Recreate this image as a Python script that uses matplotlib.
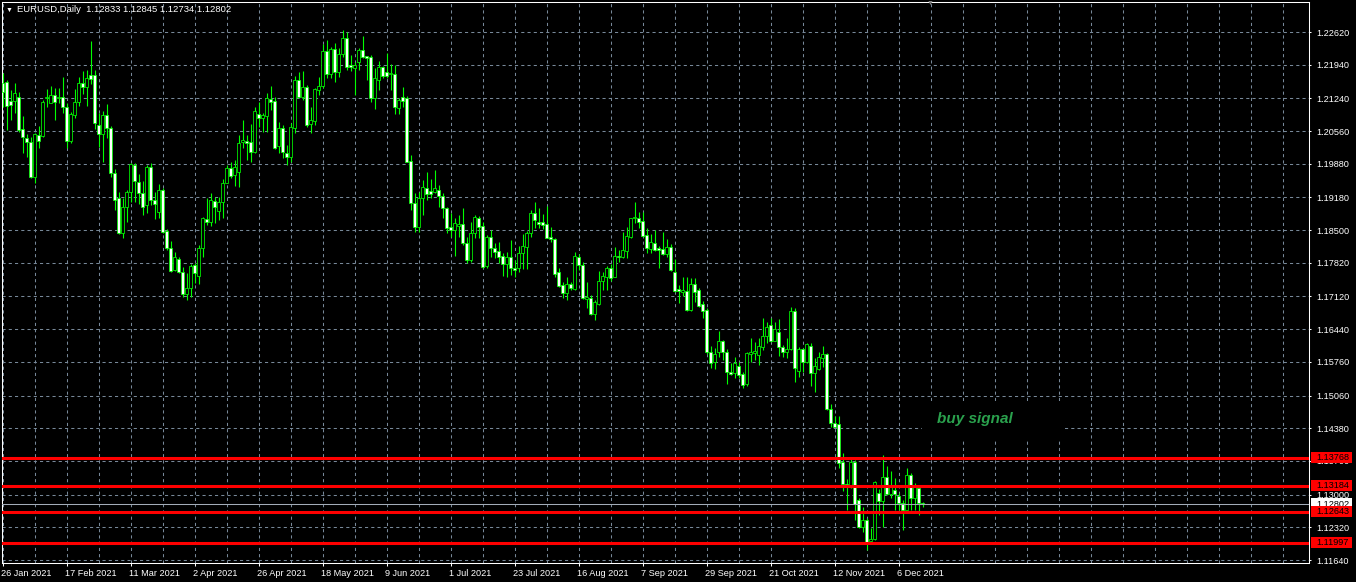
import matplotlib
matplotlib.use('Agg')
import matplotlib.pyplot as plt
import matplotlib.transforms as mtransforms
from matplotlib.patches import Rectangle

plt.rcParams['font.family'] = ['Liberation Sans', 'DejaVu Sans']

# EURUSD daily candles (open, high, low, close)
opens = [1.21567, 1.21588, 1.21193, 1.21193, 1.21276, 1.20596, 1.20409, 1.20340, 1.19612, 1.20478,
         1.20464, 1.21241, 1.21151, 1.21304, 1.21255, 1.21262, 1.21061, 1.20354, 1.20895, 1.21172,
         1.21553, 1.21484, 1.21719, 1.21719, 1.20687, 1.20492, 1.20895, 1.20617, 1.19681, 1.19175,
         1.18447, 1.18988, 1.19286, 1.19855, 1.19494, 1.19266, 1.19023, 1.19806, 1.19127, 1.18870,
         1.19335, 1.18489, 1.18122, 1.17671, 1.17893, 1.17636, 1.17165, 1.17290, 1.17775, 1.17539,
         1.18122, 1.18732, 1.18662, 1.19113, 1.18905, 1.19092, 1.19474, 1.19785, 1.19647, 1.19700,
         1.20326, 1.20353, 1.20340, 1.20132, 1.20908, 1.20825, 1.20881, 1.21227, 1.21185, 1.20257,
         1.20617, 1.20097, 1.20028, 1.20631, 1.21622, 1.21275, 1.21469, 1.20700, 1.20776, 1.21414,
         1.21504, 1.22225, 1.21740, 1.22267, 1.21795, 1.22156, 1.22488, 1.21934, 1.21878, 1.21989,
         1.22246, 1.22121, 1.22093, 1.21255, 1.21622, 1.21885, 1.21781, 1.21740, 1.21740, 1.21033,
         1.21275, 1.21255, 1.19938, 1.19057, 1.18558, 1.19161, 1.19369, 1.19314, 1.19300, 1.19327,
         1.19217, 1.18953, 1.18572, 1.18503, 1.18593, 1.18621, 1.18225, 1.17879, 1.18433, 1.18745,
         1.18593, 1.17754, 1.18350, 1.18122, 1.18066, 1.17962, 1.17789, 1.17934, 1.17720, 1.17706,
         1.18017, 1.18156, 1.18433, 1.18863, 1.18676, 1.18676, 1.18621, 1.18364, 1.18309, 1.17622,
         1.17359, 1.17186, 1.17380, 1.17276, 1.17934, 1.17775, 1.17068, 1.17082, 1.16749, 1.16957,
         1.17442, 1.17532, 1.17706, 1.17532, 1.17969, 1.17948, 1.18073, 1.18364, 1.18745, 1.18759,
         1.18690, 1.18399, 1.18108, 1.18225, 1.18122, 1.18108, 1.18004, 1.18156, 1.17622, 1.17269,
         1.17220, 1.17234, 1.16839, 1.17373, 1.17255, 1.16957, 1.16839, 1.15959, 1.15751, 1.15959,
         1.16195, 1.15959, 1.15557, 1.15522, 1.15675, 1.15501, 1.15293, 1.15917, 1.15938, 1.15903,
         1.16077, 1.16305, 1.16527, 1.16201, 1.16375, 1.16077, 1.15959, 1.16028, 1.16818, 1.15571,
         1.16028, 1.15765, 1.16097, 1.15522, 1.15612, 1.15848, 1.15917, 1.14774, 1.14496, 1.14468,
         1.13685, 1.13221, 1.13200, 1.13685, 1.12888, 1.12333, 1.12472, 1.12042, 1.12070, 1.13041,
         1.12874, 1.13359, 1.13013, 1.13096, 1.12971, 1.12819, 1.12680, 1.13408, 1.12923, 1.13131,
         1.12833]
highs = [1.21761, 1.21622, 1.21414, 1.21553, 1.21366, 1.20874, 1.20499, 1.20444, 1.20513, 1.20666,
         1.21207, 1.21435, 1.21497, 1.21449, 1.21463, 1.21678, 1.21137, 1.20950, 1.21435, 1.21678,
         1.21809, 1.21830, 1.22433, 1.21830, 1.20929, 1.20978, 1.21117, 1.20673, 1.19771, 1.19300,
         1.19161, 1.19335, 1.19889, 1.19889, 1.19661, 1.19522, 1.19855, 1.19889, 1.19300, 1.19453,
         1.19370, 1.18524, 1.18274, 1.18038, 1.17948, 1.17727, 1.17602, 1.17789, 1.17810, 1.18191,
         1.18780, 1.19161, 1.19266, 1.19196, 1.19182, 1.19557, 1.19855, 1.19924, 1.19959, 1.20478,
         1.20790, 1.20478, 1.20707, 1.21067, 1.21158, 1.20929, 1.21345, 1.21497, 1.21275, 1.20756,
         1.20686, 1.20270, 1.20721, 1.21712, 1.21795, 1.21809, 1.21518, 1.21067, 1.21463, 1.21691,
         1.22371, 1.22454, 1.22301, 1.22385, 1.22294, 1.22662, 1.22613, 1.22142, 1.22003, 1.22294,
         1.22537, 1.22128, 1.22142, 1.21865, 1.22017, 1.21920, 1.22190, 1.21948, 1.21934, 1.21241,
         1.21483, 1.21296, 1.20062, 1.19265, 1.19300, 1.19542, 1.19716, 1.19563, 1.19750, 1.19438,
         1.19265, 1.18988, 1.18849, 1.18745, 1.18815, 1.18953, 1.18364, 1.18676, 1.18815, 1.18794,
         1.18676, 1.18399, 1.18503, 1.18225, 1.18260, 1.18017, 1.18038, 1.18295, 1.17879, 1.18177,
         1.18413, 1.18482, 1.18919, 1.19078, 1.18967, 1.18829, 1.19002, 1.18572, 1.18329, 1.17706,
         1.17428, 1.17532, 1.17428, 1.18038, 1.17997, 1.17830, 1.17428, 1.17151, 1.17047, 1.17650,
         1.17636, 1.17761, 1.17789, 1.18156, 1.18087, 1.18468, 1.18572, 1.18759, 1.19078, 1.18870,
         1.18884, 1.18537, 1.18413, 1.18503, 1.18177, 1.18468, 1.18316, 1.18205, 1.17900, 1.17359,
         1.17532, 1.17532, 1.17498, 1.17512, 1.17290, 1.17026, 1.16874, 1.16097, 1.16042, 1.16402,
         1.16215, 1.16028, 1.15730, 1.15869, 1.15765, 1.15557, 1.15959, 1.16250, 1.16181, 1.16250,
         1.16680, 1.16583, 1.16666, 1.16583, 1.16652, 1.16111, 1.16250, 1.16909, 1.16888, 1.16077,
         1.16042, 1.16146, 1.16146, 1.15834, 1.15959, 1.16097, 1.15938, 1.14884, 1.14635, 1.14635,
         1.13858, 1.13325, 1.13734, 1.13720, 1.12923, 1.12749, 1.12507, 1.12299, 1.13290, 1.13110,
         1.13824, 1.13595, 1.13491, 1.13339, 1.13027, 1.12888, 1.13547, 1.13443, 1.13235, 1.13152,
         1.12845]
lows = [1.21068, 1.20583, 1.20791, 1.20929, 1.20548, 1.20097, 1.20028, 1.19578, 1.19474, 1.20201,
        1.20444, 1.21068, 1.21137, 1.20791, 1.21137, 1.20943, 1.20201, 1.20305, 1.20825, 1.21082,
        1.21324, 1.21089, 1.21539, 1.20603, 1.20236, 1.19910, 1.20409, 1.19612, 1.18919, 1.18413,
        1.18343, 1.18676, 1.19092, 1.19092, 1.19037, 1.18815, 1.18849, 1.19023, 1.18732, 1.18759,
        1.18434, 1.18087, 1.17623, 1.17650, 1.17602, 1.17117, 1.17047, 1.17117, 1.17394, 1.17373,
        1.17948, 1.18607, 1.18586, 1.18641, 1.18711, 1.18746, 1.19474, 1.19578, 1.19418, 1.19400,
        1.20215, 1.19958, 1.19924, 1.20097, 1.20652, 1.20548, 1.20548, 1.21006, 1.20187, 1.20111,
        1.19993, 1.19854, 1.19924, 1.20513, 1.21241, 1.21206, 1.20652, 1.20513, 1.20686, 1.21310,
        1.21449, 1.21657, 1.21671, 1.21587, 1.21691, 1.22107, 1.21830, 1.21809, 1.21310, 1.21830,
        1.22086, 1.21622, 1.21171, 1.21019, 1.21414, 1.21657, 1.21657, 1.21414, 1.20915, 1.20915,
        1.21067, 1.19910, 1.18919, 1.18468, 1.18468, 1.18815, 1.19127, 1.19161, 1.19265, 1.18988,
        1.18759, 1.18433, 1.18364, 1.17952, 1.18364, 1.18191, 1.17810, 1.17830, 1.18329, 1.18343,
        1.17706, 1.17720, 1.17948, 1.17914, 1.17810, 1.17553, 1.17532, 1.17567, 1.17532, 1.17622,
        1.17692, 1.17692, 1.18364, 1.18537, 1.18537, 1.18524, 1.18329, 1.18260, 1.17532, 1.17324,
        1.17082, 1.17047, 1.17255, 1.17255, 1.17671, 1.17068, 1.16874, 1.16735, 1.16631, 1.16943,
        1.17255, 1.17255, 1.17442, 1.17532, 1.17830, 1.17914, 1.17928, 1.18329, 1.18641, 1.18537,
        1.18364, 1.18017, 1.18017, 1.18066, 1.17706, 1.17983, 1.17948, 1.17650, 1.17220, 1.16978,
        1.17137, 1.16818, 1.16818, 1.17013, 1.16908, 1.16680, 1.15917, 1.15626, 1.15612, 1.15869,
        1.15799, 1.15293, 1.15488, 1.15418, 1.15418, 1.15224, 1.15266, 1.15765, 1.15799, 1.15695,
        1.16007, 1.16146, 1.16181, 1.16194, 1.15890, 1.15869, 1.15834, 1.16007, 1.15349, 1.15453,
        1.15557, 1.15730, 1.15266, 1.15127, 1.15591, 1.15661, 1.14760, 1.14413, 1.14399, 1.13547,
        1.13082, 1.12680, 1.13131, 1.12472, 1.12299, 1.12230, 1.11848, 1.12022, 1.12056, 1.12576,
        1.12334, 1.12992, 1.12923, 1.12680, 1.12680, 1.12264, 1.12680, 1.12680, 1.12680, 1.12576,
        1.12734]
closes = [1.21366, 1.21089, 1.21096, 1.21345, 1.20583, 1.20430, 1.20340, 1.19612, 1.20492, 1.20360,
          1.21158, 1.21262, 1.21304, 1.21172, 1.21269, 1.21054, 1.20360, 1.20915, 1.21158, 1.21553,
          1.21484, 1.21657, 1.21650, 1.20721, 1.20492, 1.20895, 1.20617, 1.19681, 1.19127, 1.18447,
          1.18988, 1.19286, 1.19868, 1.19522, 1.19266, 1.18988, 1.19806, 1.19127, 1.19037, 1.19335,
          1.18468, 1.18122, 1.17657, 1.17934, 1.17636, 1.17165, 1.17290, 1.17754, 1.17609, 1.18122,
          1.18746, 1.18662, 1.19120, 1.18988, 1.19092, 1.19474, 1.19785, 1.19633, 1.19806, 1.20320,
          1.20374, 1.20319, 1.20132, 1.20977, 1.20839, 1.20895, 1.21241, 1.21171, 1.20201, 1.20617,
          1.20118, 1.20028, 1.20652, 1.21622, 1.21275, 1.21469, 1.20686, 1.20790, 1.21428, 1.21497,
          1.22225, 1.21740, 1.22267, 1.21795, 1.22156, 1.22488, 1.21899, 1.21899, 1.21934, 1.22246,
          1.22107, 1.22086, 1.21255, 1.21657, 1.21885, 1.21712, 1.21712, 1.21761, 1.21054, 1.21206,
          1.21185, 1.19924, 1.19057, 1.18572, 1.19161, 1.19404, 1.19251, 1.19251, 1.19369, 1.19217,
          1.18953, 1.18551, 1.18503, 1.18641, 1.18620, 1.18225, 1.17879, 1.18433, 1.18766, 1.18572,
          1.17740, 1.18364, 1.18122, 1.18038, 1.17948, 1.17789, 1.17934, 1.17706, 1.17671, 1.18017,
          1.18170, 1.18433, 1.18863, 1.18711, 1.18628, 1.18607, 1.18343, 1.18309, 1.17588, 1.17345,
          1.17200, 1.17380, 1.17290, 1.17962, 1.17775, 1.17082, 1.17116, 1.16749, 1.17013, 1.17442,
          1.17546, 1.17720, 1.17512, 1.17969, 1.17934, 1.18087, 1.18378, 1.18745, 1.18773, 1.18676,
          1.18385, 1.18135, 1.18260, 1.18087, 1.18094, 1.18004, 1.18156, 1.17671, 1.17241, 1.17234,
          1.17255, 1.16839, 1.17373, 1.17206, 1.16929, 1.16825, 1.15959, 1.15744, 1.15917, 1.16195,
          1.15959, 1.15543, 1.15515, 1.15730, 1.15488, 1.15280, 1.15938, 1.15973, 1.15987, 1.16090,
          1.16305, 1.16493, 1.16201, 1.16444, 1.16077, 1.15959, 1.16028, 1.16818, 1.15626, 1.16028,
          1.15765, 1.16125, 1.15522, 1.15675, 1.15855, 1.15917, 1.14773, 1.14496, 1.14413, 1.13664,
          1.13221, 1.13200, 1.13685, 1.12805, 1.12333, 1.12472, 1.12022, 1.12070, 1.13269, 1.12874,
          1.13359, 1.13013, 1.13165, 1.13013, 1.12833, 1.12680, 1.13408, 1.12923, 1.13152, 1.12819,
          1.12802]

date_labels = ['26 Jan 2021', '17 Feb 2021', '11 Mar 2021', '2 Apr 2021', '26 Apr 2021',
               '18 May 2021', '9 Jun 2021', '1 Jul 2021', '23 Jul 2021', '16 Aug 2021',
               '7 Sep 2021', '29 Sep 2021', '21 Oct 2021', '12 Nov 2021', '6 Dec 2021']
price_ticks = [1.22620, 1.21940, 1.21240, 1.20560, 1.19880, 1.19180, 1.18500, 1.17820, 1.17120,
               1.16440, 1.15760, 1.15060, 1.14380, 1.13700, 1.13000, 1.12320, 1.11640]
levels = [1.13768, 1.13184, 1.12643, 1.11997]
bid = 1.12802

W, H = 1356, 582
fig = plt.figure(figsize=(W / 100, H / 100), dpi=100, facecolor='black')
ax = fig.add_axes([2 / W, (H - 563) / H, (1309 - 2) / W, (563 - 2) / H])
ax.set_facecolor('black')

n = len(opens)
xs = list(range(n))
bull = [c >= o for o, c in zip(opens, closes)]
green = '#00ff00'

ax.vlines(xs, lows, highs, colors=green, linewidth=0.8, zorder=3)
bottoms = [min(o, c) for o, c in zip(opens, closes)]
heights = [max(abs(c - o), 0.00001) for o, c in zip(opens, closes)]
fills = ['black' if b else 'white' for b in bull]
ax.bar(xs, heights, bottom=bottoms, width=0.6, color=fills, edgecolor=green,
       linewidth=0.55, zorder=4)

ax.set_xlim(-0.175, 326.6)
ax.set_ylim(1.11578, 1.23244)

# axes / grid
major_x = [16 * k for k in range(len(date_labels))]
ax.set_xticks(major_x)
ax.set_xticklabels(date_labels)
ax.set_xticks([x for x in range(8, 327, 8) if x not in major_x], minor=True)
ax.set_yticks(price_ticks)
ax.set_yticklabels([f'{p:.5f}' for p in price_ticks])
ax.yaxis.tick_right()
ax.set_axisbelow(True)
grid_kw = dict(color='#778899', linestyle=(0, (3, 3)), linewidth=0.75)
ax.grid(True, which='both', axis='x', **grid_kw)
ax.grid(True, which='major', axis='y', **grid_kw)
ax.tick_params(axis='x', which='major', colors='white', length=2.5, width=0.75,
               labelsize=6.6, pad=1.5)
ax.tick_params(axis='x', which='minor', length=0)
ax.tick_params(axis='y', colors='white', length=1.5, width=0.75, labelsize=6.6, pad=3.6)
for lab in ax.get_xticklabels():
    lab.set_horizontalalignment('left')
    lab.set_transform(lab.get_transform() + mtransforms.ScaledTranslation(-2 / 100, 0, fig.dpi_scale_trans))
for sp in ax.spines.values():
    sp.set_color('white')
    sp.set_linewidth(0.75)

blend = mtransforms.blended_transform_factory(ax.transAxes, ax.transData)
px = (1.23244 - 1.11578) / 561

# bid line and its label
ax.axhline(bid, color='#a3acb8', linewidth=0.75, zorder=5)
ax.add_patch(Rectangle((1.0015, bid - 5 * px), 0.0314, 11 * px, transform=blend,
                       facecolor='white', edgecolor='none', clip_on=False, zorder=6))
ax.text(1.0053, bid, f'{bid:.5f}', transform=blend, color='black', fontsize=6.6,
        va='center', ha='left', clip_on=False, zorder=6.5)

# horizontal levels
for lv in levels:
    ax.axhline(lv, color='red', linewidth=2.2, zorder=7)
    ax.add_patch(Rectangle((1.0015, lv - 5.5 * px), 0.0314, 11 * px, transform=blend,
                           facecolor='red', edgecolor='none', clip_on=False, zorder=8))
    ax.text(1.0053, lv, f'{lv:.5f}', transform=blend, color='black', fontsize=6.6,
            va='center', ha='left', clip_on=False, zorder=9)

# signal label
ax.add_patch(Rectangle((229.8, 1.14136), 35.5, 0.00748, facecolor='black',
                       edgecolor='none', zorder=2))
ax.text(233.6, 1.14479, 'buy signal', color='#2aa14d', fontsize=11, fontweight='bold',
        fontstyle='italic', ha='left', va='baseline', zorder=3)

# header
fig.text(6 / W, 1 - 10 / H, '▼', color='white', fontsize=5, ha='left', va='center')
fig.text(17 / W, 1 - 10 / H, 'EURUSD,Daily  1.12833 1.12845 1.12734 1.12802',
         color='white', fontsize=6.8, ha='left', va='center')
fig.text(930 / W, 1 - 3 / H, '▼', color='#808080', fontsize=5, ha='center', va='center')

fig.savefig('out.png', dpi=100, facecolor='black')
